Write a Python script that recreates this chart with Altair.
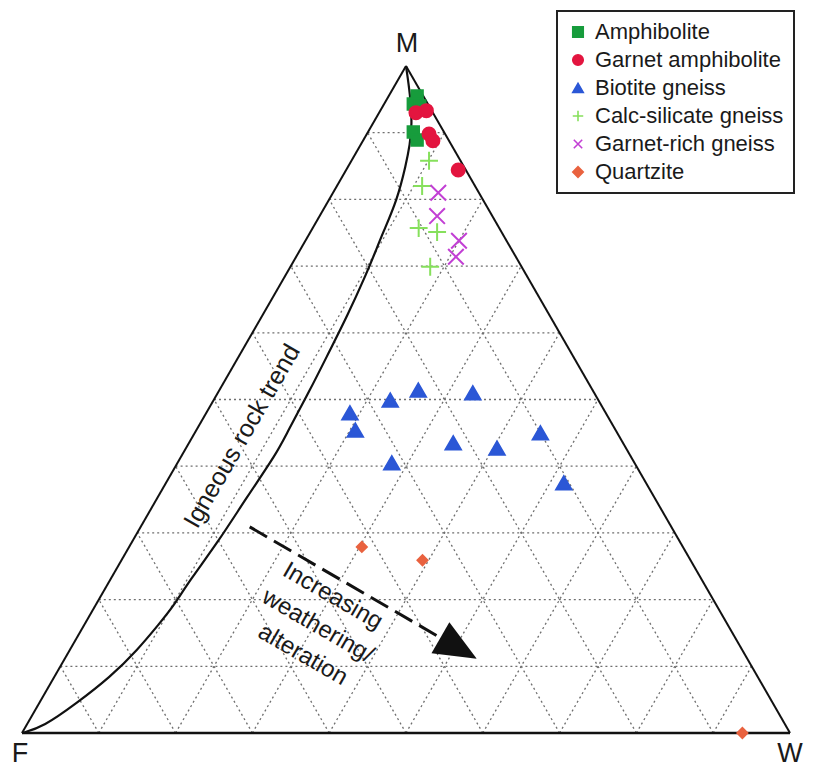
import altair as alt
import pandas as pd

# ---------------- data (ternary percentages: M and W; F = 100 - M - W) ----------------
groups = ["Amphibolite", "Garnet amphibolite", "Biotite gneiss",
          "Calc-silicate gneiss", "Garnet-rich gneiss", "Quartzite"]
colors = ["#179c3c", "#e3153f", "#2b57d6", "#86e05c", "#c23fd4", "#e9623f"]
shapes = ["square", "circle", "triangle-up",
          "M-1,0L1,0M0,-1L0,1", "M-0.8,-0.8L0.8,0.8M-0.8,0.8L0.8,-0.8", "diamond"]
sizes = [130, 170, 235, 320, 380, 100]

amph_M = [95.5, 94.3, 94.0, 90.1, 88.9]
amph_W = [3.7, 3.8, 4.8, 5.9, 7.0]
gamph_M = [93.0, 93.3, 89.8, 88.8, 84.4]
gamph_W = [4.8, 6.0, 8.1, 9.1, 14.6]
bio_M = [48.0, 45.4, 49.9, 51.4, 51.0, 43.5, 42.7, 45.0, 40.5, 37.5]
bio_W = [18.7, 20.7, 23.0, 25.9, 33.2, 34.4, 40.5, 45.0, 27.9, 51.8]
calc_M = [85.8, 82.0, 75.7, 75.1, 69.9]
calc_W = [10.1, 11.1, 13.8, 16.5, 18.2]
grich_M = [81.0, 77.5, 73.8, 71.4]
grich_W = [13.7, 15.3, 20.0, 20.8]
qtz_M = [27.9, 25.9, 0.0]
qtz_W = [30.3, 39.2, 93.8]

# igneous rock trend (from M down to F)
ig_M = [100.0, 95.7, 91.2, 88.2, 85.2, 79.9, 75.0, 72.4, 69.0, 62.4, 57.4, 51.4,
        45.0, 42.0, 35.4, 28.5, 22.9, 18.9, 16.5, 12.4, 8.4, 4.5, 0.9, 0.0]
ig_W = [0.0, 2.7, 5.2, 6.4, 7.4, 8.9, 9.5, 9.9, 10.4, 11.1, 11.4, 11.8,
        12.0, 12.2, 11.6, 11.2, 10.4, 10.2, 9.7, 8.8, 7.3, 4.9, 2.3, 0.0]

grid_levels = [10, 20, 30, 40, 50, 60, 70, 80, 90]
vertex_labels = ["M", "F", "W"]
vertex_M = [100, 0, 0]
vertex_W = [0, 0, 100]

arrow_start = (30.9, 14.2)   # (M, W)
arrow_head = (12.7, 50.5)
weather_lines = ["Increasing", "weathering/", "alteration"]
weather_M = [20.5, 16.0, 11.7]
weather_W = [30.2, 30.5, 30.7]
igneous_text = "Igneous rock trend"
igneous_pos = (44.5, 6.4)

# ---------------- tables ----------------
series = [(amph_M, amph_W), (gamph_M, gamph_W), (bio_M, bio_W),
          (calc_M, calc_W), (grich_M, grich_W), (qtz_M, qtz_W)]
rows = []
for g, (ms, ws) in zip(groups, series):
    for m, w in zip(ms, ws):
        rows.append({"group": g, "M": m, "W": w})
pts = pd.DataFrame(rows)

grows = []
for k in grid_levels:
    grows.append({"M1": k, "W1": 0, "M2": k, "W2": 100 - k})
    grows.append({"M1": 0, "W1": k, "M2": 100 - k, "W2": k})
    grows.append({"M1": 0, "W1": 100 - k, "M2": 100 - k, "W2": 0})
grid = pd.DataFrame(grows)

edges = pd.DataFrame([
    {"M1": vertex_M[1], "W1": vertex_W[1], "M2": vertex_M[2], "W2": vertex_W[2], "sw": 2.6},
    {"M1": vertex_M[1], "W1": vertex_W[1], "M2": vertex_M[0], "W2": vertex_W[0], "sw": 2.0},
    {"M1": vertex_M[2], "W1": vertex_W[2], "M2": vertex_M[0], "W2": vertex_W[0], "sw": 2.0},
])

curve = pd.DataFrame({"M": ig_M, "W": ig_W, "i": list(range(len(ig_M)))})

XS = alt.Scale(domain=[-1.8229, 102.2135], nice=False, zero=False)
YS = alt.Scale(domain=[-5.0975, 108.6957], nice=False, zero=False)


def xy(prefix=""):
    return {"x%s" % prefix: "datum.W%s + datum.M%s / 2" % (prefix, prefix),
            "y%s" % prefix: "datum.M%s" % prefix}


X = alt.X("x:Q", scale=XS, axis=None)
Y = alt.Y("y:Q", scale=YS, axis=None)

grid_layer = alt.Chart(grid).transform_calculate(**xy("1"), **xy("2")).mark_rule(
    color="#6f6f6f", strokeWidth=1.3, strokeDash=[2, 3]
).encode(x=alt.X("x1:Q", scale=XS, axis=None), y=alt.Y("y1:Q", scale=YS, axis=None),
         x2="x2:Q", y2="y2:Q")

edge_layer = alt.Chart(edges).transform_calculate(**xy("1"), **xy("2")).mark_rule(
    color="#111111"
).encode(x=alt.X("x1:Q", scale=XS, axis=None), y=alt.Y("y1:Q", scale=YS, axis=None),
         x2="x2:Q", y2="y2:Q", strokeWidth=alt.StrokeWidth("sw:Q", scale=None))

curve_layer = alt.Chart(curve).transform_calculate(**xy()).mark_line(
    color="#111111", strokeWidth=2.2, interpolate="basis"
).encode(x=X, y=Y, order="i:Q")

arrow_df = pd.DataFrame([{"M1": arrow_start[0], "W1": arrow_start[1],
                          "M2": arrow_head[0], "W2": arrow_head[1]}])
arrow_line = alt.Chart(arrow_df).transform_calculate(**xy("1"), **xy("2")).mark_rule(
    color="#111111", strokeWidth=3, strokeDash=[20, 8]
).encode(x=alt.X("x1:Q", scale=XS, axis=None), y=alt.Y("y1:Q", scale=YS, axis=None),
         x2="x2:Q", y2="y2:Q")
head_df = pd.DataFrame([{"M": arrow_head[0], "W": arrow_head[1]}])
arrow_head_layer = alt.Chart(head_df).transform_calculate(**xy()).mark_point(
    shape="M1,0L-1,-0.85L-1,0.85Z", size=1764, angle=30, filled=True,
    color="#111111", opacity=1
).encode(x=X, y=Y)

vdf = pd.DataFrame({"label": vertex_labels, "M": vertex_M, "W": vertex_W,
                    "dx": [1, -2, 0], "dy": [-22, 21, 21]})
vlayers = []
for _, r in vdf.iterrows():
    vlayers.append(
        alt.Chart(vdf[vdf.label == r.label]).transform_calculate(**xy()).mark_text(
            font="Liberation Sans", fontSize=27, color="#1a1a1a",
            dx=int(r.dx), dy=int(r.dy), baseline="middle", align="center"
        ).encode(x=X, y=Y, text="label:N")
    )

wdf = pd.DataFrame({"t": weather_lines, "M": weather_M, "W": weather_W})
weather_layer = alt.Chart(wdf).transform_calculate(**xy()).mark_text(
    font="Liberation Sans", fontSize=24, color="#1a1a1a", angle=30,
    baseline="middle", align="center"
).encode(x=X, y=Y, text="t:N")

idf = pd.DataFrame([{"t": igneous_text, "M": igneous_pos[0], "W": igneous_pos[1]}])
igneous_layer = alt.Chart(idf).transform_calculate(**xy()).mark_text(
    font="Liberation Sans", fontSize=25, color="#1a1a1a", angle=300,
    baseline="middle", align="center"
).encode(x=X, y=Y, text="t:N")

cat = alt.Scale(domain=groups, range=colors)
shp = alt.Scale(domain=groups, range=shapes)
point_layers = []
for g, s in zip(groups, sizes):
    point_layers.append(
        alt.Chart(pts[pts.group == g]).transform_calculate(**xy()).mark_point(
            filled=True, strokeWidth=2, opacity=1, size=s
        ).encode(
            x=X, y=Y,
            fill=alt.Fill("group:N", scale=cat, title=None),
            stroke=alt.Stroke("group:N", scale=cat, title=None),
            shape=alt.Shape("group:N", scale=shp, title=None),
        )
    )

chart = alt.layer(
    grid_layer, edge_layer, curve_layer, arrow_line, arrow_head_layer,
    *vlayers, weather_layer, igneous_layer, *point_layers
).properties(
    width=799, height=759, padding=0, autosize=alt.AutoSizeParams(type="none"),
    background="white"
).configure_view(stroke=None).configure_legend(
    orient="none", legendX=549, legendY=3, strokeColor="#222222", strokeWidth=2,
    padding=10, rowPadding=6, labelFont="Liberation Sans", labelFontSize=22,
    labelColor="#1a1a1a", labelOffset=6, labelLimit=400, fillColor="white",
    symbolSize=110, symbolStrokeWidth=1.6
)

chart.save("out.html", embed_options={"renderer": "svg", "actions": False})
